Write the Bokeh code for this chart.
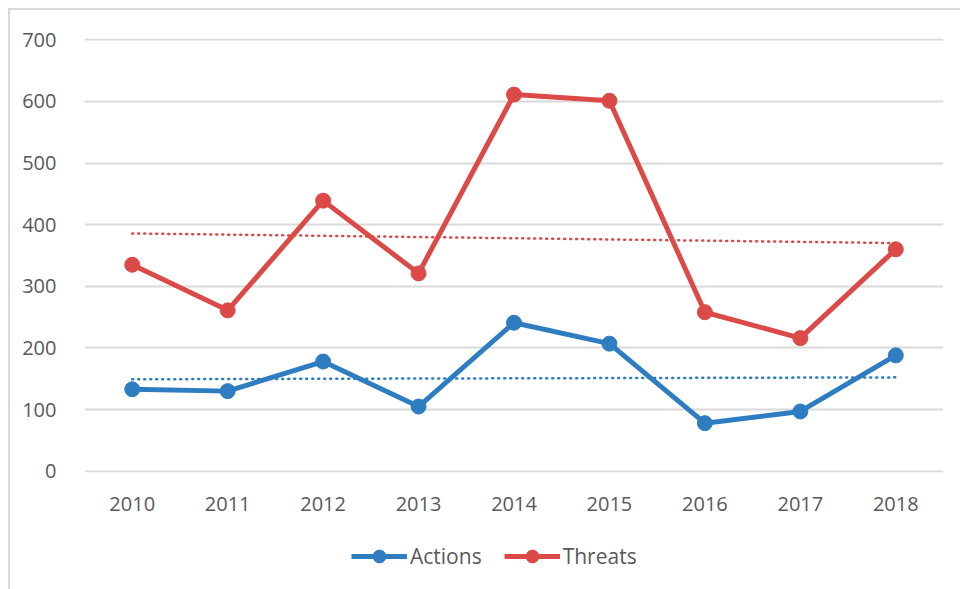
import numpy as np
from bokeh.plotting import figure
from bokeh.layouts import column
from bokeh.models import ColumnDataSource, Legend, LegendItem, FixedTicker, Range1d
from bokeh.embed import file_html
from bokeh.resources import INLINE

years = ["2010", "2011", "2012", "2013", "2014", "2015", "2016", "2017", "2018"]
actions = [133, 130, 178, 105, 241, 207, 78, 97, 188]
threats = [335, 261, 439, 321, 611, 601, 258, 216, 360]
y_ticks = [0, 100, 200, 300, 400, 500, 600, 700]
series_names = ["Actions", "Threats"]

BLUE = "#2E7DC1"
RED = "#DC4A47"
GREY_TXT = "#595959"
GRID = "#D9D9D9"
FONT = "Open Sans"

p = figure(x_range=years, y_range=Range1d(-2, 702), width=950, height=512,
           output_backend="svg", toolbar_location=None,
           min_border_left=74, min_border_right=17, min_border_top=28, min_border_bottom=50)
p.outline_line_color = None
p.xgrid.grid_line_color = None
p.ygrid.grid_line_color = GRID
p.ygrid.grid_line_width = 2
p.yaxis.ticker = FixedTicker(ticks=y_ticks)
for ax in (p.xaxis[0], p.yaxis[0]):
    ax.axis_line_color = None
    ax.major_tick_line_color = None
    ax.minor_tick_line_color = None
    ax.major_label_text_font = FONT
    ax.major_label_text_font_size = "20px"
    ax.major_label_text_color = GREY_TXT
p.yaxis.major_label_standoff = 22
p.xaxis.major_label_standoff = 18

idx = np.arange(len(years))
# linear trendlines computed from the data
for series, color in ((actions, BLUE), (threats, RED)):
    k, b = np.polyfit(idx, np.array(series, dtype=float), 1)
    trend = k * idx + b
    p.line(x=years, y=list(trend), line_color=color, line_width=2.5,
           line_dash="1 5", line_cap="round")

src = ColumnDataSource(dict(x=years, a=actions, t=threats))
p.line("x", "a", source=src, line_color=BLUE, line_width=5, line_join="round")
p.scatter("x", "a", source=src, size=15, fill_color=BLUE, line_color=BLUE)
p.line("x", "t", source=src, line_color=RED, line_width=5, line_join="round")
p.scatter("x", "t", source=src, size=15, fill_color=RED, line_color=RED)

# legend strip below the chart (its data lies outside its view; only the legend shows)
pl = figure(x_range=years, y_range=Range1d(-1001, -1000), width=950, height=67,
            output_backend="svg", toolbar_location=None,
            x_axis_location=None, y_axis_location=None,
            min_border_left=0, min_border_right=0, min_border_top=0, min_border_bottom=0)
pl.outline_line_color = None
pl.grid.grid_line_color = None
items = []
for name, color, col in zip(series_names, (BLUE, RED), ("a", "t")):
    l = pl.line("x", col, source=src, line_color=color, line_width=5)
    s = pl.scatter("x", col, source=src, size=15, fill_color=color, line_color=color)
    items.append(LegendItem(label=name, renderers=[l, s]))
legend = Legend(items=items, orientation="horizontal", location=(267, 17))
legend.border_line_color = None
legend.background_fill_alpha = 0
legend.label_text_font = FONT
legend.label_text_font_size = "21px"
legend.label_text_color = GREY_TXT
legend.glyph_width = 56
legend.glyph_height = 32
legend.label_standoff = 3
legend.spacing = 22
legend.padding = 0
legend.margin = 0
pl.add_layout(legend)

layout = column(p, pl, spacing=0, margin=(8, 0, 0, 8),
                styles={"border-left": "2px solid #D9D9D9", "border-top": "2px solid #D9D9D9"})

open("out.html", "w").write(file_html(layout, INLINE))
